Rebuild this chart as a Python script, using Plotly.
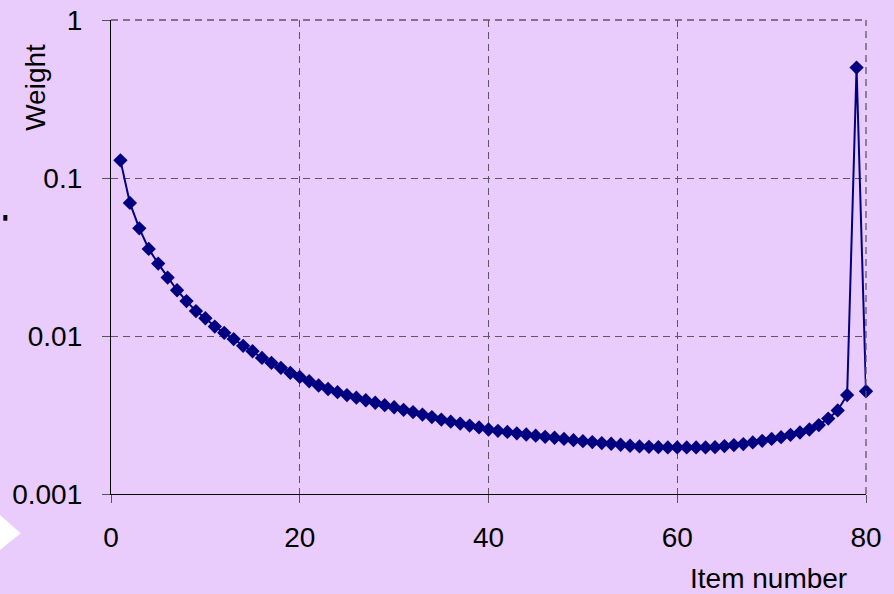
import plotly.graph_objects as go

items = list(range(1, 81))
weights = [
    0.1293, 0.06956, 0.04803, 0.03558, 0.02872, 0.02343, 0.01948, 0.01663, 0.01438, 0.01295,
    0.01148, 0.01047, 0.00956, 0.00866, 0.00801, 0.00727, 0.00676, 0.00629, 0.00585, 0.00551,
    0.00517, 0.00486, 0.00462, 0.00441, 0.00423, 0.00407, 0.00392, 0.00378, 0.00365, 0.00354,
    0.00341, 0.00330, 0.00318, 0.00307, 0.00296, 0.00287, 0.00279, 0.00271, 0.00264, 0.00256,
    0.00251, 0.00247, 0.00242, 0.00238, 0.00234, 0.00230, 0.00227, 0.00223, 0.00219, 0.00216,
    0.00213, 0.00210, 0.00208, 0.00205, 0.00202, 0.00200, 0.00199, 0.00198, 0.00197, 0.00197,
    0.00197, 0.00197, 0.00197, 0.00198, 0.00201, 0.00204, 0.00207, 0.00212, 0.00217, 0.00223,
    0.00229, 0.00237, 0.00245, 0.00256, 0.00273, 0.00300, 0.00338, 0.00423, 0.5, 0.00447,
]
x_ticks = [0, 20, 40, 60, 80]
y_ticks = [0.001, 0.01, 0.1, 1]
y_tick_text = ["0.001", "0.01", "0.1", "1"]

BG = "#E9CBFC"
NAVY = "#000080"
GRID = "#5F5566"
FONT = "Liberation Sans, Arial, sans-serif"

fig = go.Figure()
fig.add_trace(go.Scatter(
    x=items, y=weights, mode="lines+markers",
    line=dict(color=NAVY, width=2),
    marker=dict(symbol="diamond", size=11, color=NAVY),
    showlegend=False, cliponaxis=False,
))

fig.update_layout(
    width=894, height=594,
    margin=dict(l=111, r=28, t=20, b=100),
    paper_bgcolor=BG, plot_bgcolor=BG,
    font=dict(family=FONT, size=28, color="black"),
    xaxis=dict(
        range=[0, 80], tickvals=x_ticks, showgrid=True, gridcolor=GRID,
        griddash="7px,5px", gridwidth=1, zeroline=False, automargin=False,
        showline=True, linecolor="black", linewidth=1.3,
        ticks="outside", ticklen=8, tickcolor="#555555", tickwidth=1,
        ticklabelstandoff=10,
    ),
    yaxis=dict(
        type="log", range=[-3, 0], tickvals=y_ticks, ticktext=y_tick_text,
        showgrid=True, gridcolor=GRID, griddash="7px,5px", gridwidth=1,
        zeroline=False, showline=True, linecolor="black", linewidth=1.3,
        ticks="outside", ticklen=8, tickcolor="#555555", tickwidth=1,
        ticklabelstandoff=14, automargin=False,
    ),
    shapes=[
        dict(type="line", xref="paper", yref="paper", x0=0, x1=1, y0=1, y1=1,
             line=dict(color=GRID, width=1.3, dash="7px,5px")),
        dict(type="line", xref="paper", yref="paper", x0=1, x1=1, y0=0, y1=1,
             line=dict(color=GRID, width=1.3, dash="7px,5px")),
        dict(type="rect", xref="paper", yref="paper", x0=-0.1426, x1=-0.1373,
             y0=0.5766, y1=0.5886, fillcolor="black", line=dict(width=0)),
        dict(type="path", xref="paper", yref="paper",
             path="M -0.16,-0.0443 L -0.147,-0.0443 L -0.1196,-0.0829 L -0.147,-0.1181 L -0.16,-0.1181 Z",
             fillcolor="white", line=dict(width=0)),
    ],
    annotations=[
        dict(text="Weight", xref="paper", yref="paper", x=-0.100, y=0.858,
             textangle=-90, showarrow=False, font=dict(size=28),
             xanchor="center", yanchor="middle"),
        dict(text="Item number", xref="paper", yref="paper", x=0.871, y=-0.1775,
             showarrow=False, font=dict(size=28), xanchor="center", yanchor="middle"),
    ],
)

fig.write_html("out.html")
